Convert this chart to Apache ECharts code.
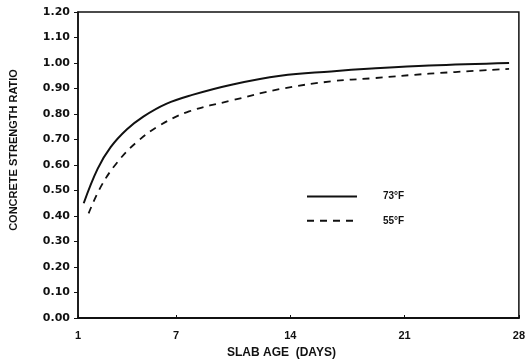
<!DOCTYPE html>
<html>
<head>
<meta charset="utf-8">
<script src="https://cdn.jsdelivr.net/npm/echarts@6/dist/echarts.min.js"></script>
<style>html,body{margin:0;padding:0;background:#fff;}#c{width:528px;height:364px;}</style>
</head>
<body>
<div id="c"></div>
<script>
const xTicks = [1, 7, 14, 21, 28];
const seriesNames = ['73°F', '55°F'];
const temp73 = [[1.35,0.45],[2.2,0.585],[3,0.67],[4,0.74],[5,0.79],[6.4,0.84],[8,0.875],[10.4,0.915],[13.4,0.95],[16.5,0.967],[19,0.978],[22.5,0.99],[27.4,1.0]];
const temp55 = [[1.65,0.41],[2.4,0.515],[3.4,0.61],[4.6,0.69],[6,0.755],[7.8,0.81],[10.4,0.853],[13.4,0.898],[16.5,0.928],[19,0.94],[22.5,0.958],[27.4,0.977]];

const chart = echarts.init(document.getElementById('c'), null, {renderer: 'canvas'});
chart.setOption({
  animation: false,
  backgroundColor: '#fff',
  grid: {left: 74, right: 7, top: 12, bottom: 46, show: true, borderColor: '#111', borderWidth: 1.5},
  legend: {
    orient: 'vertical', left: 301, top: 186, itemWidth: 50, itemHeight: 14, itemGap: 13,
    itemStyle: {opacity: 0},
    textStyle: {fontFamily: 'Liberation Sans', fontWeight: 'bold', fontSize: 10, color: '#111', padding: [0,0,0,21]},
    data: seriesNames
  },
  xAxis: {
    type: 'value', min: 1, max: 28,
    name: 'SLAB AGE  (DAYS)', nameLocation: 'middle', nameGap: 29,
    nameTextStyle: {fontFamily: 'Liberation Sans', fontWeight: 'bold', fontSize: 12, color: '#111', padding: [0,34,0,0]},
    axisLine: {lineStyle: {color: '#111', width: 2}},
    axisTick: {show: true, inside: true, length: 3, customValues: xTicks, lineStyle: {color: '#111'}},
    axisLabel: {customValues: xTicks, margin: 12, fontFamily: 'Liberation Sans', fontWeight: 'bold', fontSize: 11, color: '#111'},
    splitLine: {show: false}
  },
  yAxis: {
    type: 'value', min: 0, max: 1.2, interval: 0.1,
    name: 'CONCRETE STRENGTH RATIO', nameLocation: 'middle', nameGap: 59,
    nameTextStyle: {fontFamily: 'Liberation Sans', fontWeight: 'bold', fontSize: 11, color: '#111', padding: [0,0,0,30]},
    axisLine: {show: true, lineStyle: {color: '#111', width: 1.5}},
    axisTick: {show: true, inside: false, length: 4, lineStyle: {color: '#111'}},
    axisLabel: {margin: 8, fontFamily: 'DejaVu Sans', fontWeight: 'bold', fontSize: 11, color: '#111', formatter: v => v.toFixed(2)},
    splitLine: {show: false}
  },
  series: [
    {name: seriesNames[0], type: 'line', smooth: 0.4, symbol: 'none', data: temp73,
     lineStyle: {color: '#111', width: 2}, itemStyle: {color: '#111'}},
    {name: seriesNames[1], type: 'line', smooth: 0.4, symbol: 'none', data: temp55,
     lineStyle: {color: '#111', width: 1.8, type: [7, 6]}, itemStyle: {color: '#111'}}
  ]
});
</script>
</body>
</html>
